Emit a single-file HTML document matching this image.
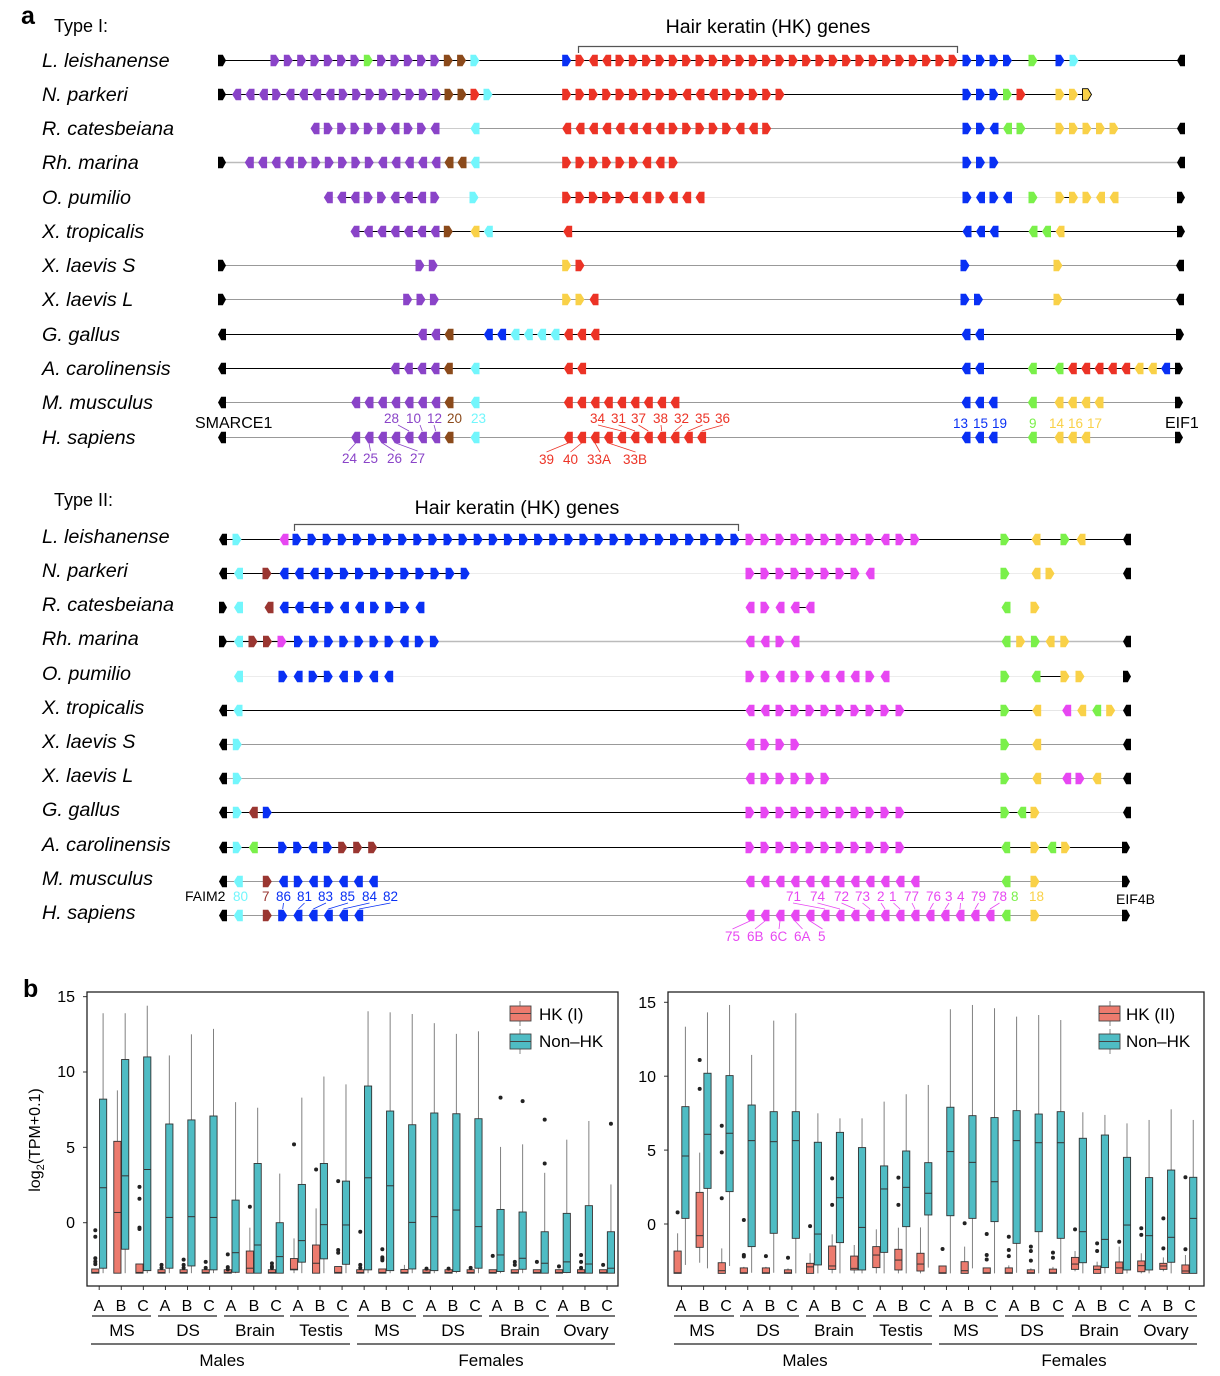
<!DOCTYPE html>
<html><head><meta charset="utf-8">
<style>
html,body{margin:0;padding:0;background:#fff;}
svg{display:block;font-family:"Liberation Sans",Arial,sans-serif;}
.sp{font-size:19.8px;font-style:italic;}
.n{font-size:13.5px;}
</style></head>
<body>
<svg id="s" width="1220" height="1376" viewBox="0 0 1220 1376" xmlns="http://www.w3.org/2000/svg">
<rect width="1220" height="1376" fill="#fff"/>
<!-- Panel a texts -->
<text x="21" y="24" font-size="25" font-weight="bold">a</text>
<text x="54" y="32" font-size="18">Type I:</text>
<text x="768" y="33" font-size="19.6" text-anchor="middle">Hair keratin (HK) genes</text>
<path d="M578.5,53 V46.5 H957.5 V53" fill="none" stroke="#555" stroke-width="1.2"/>
<g class="sp">
<text x="42" y="67">L. leishanense</text>
<text x="42" y="101">N. parkeri</text>
<text x="42" y="135">R. catesbeiana</text>
<text x="42" y="169">Rh. marina</text>
<text x="42" y="204">O. pumilio</text>
<text x="42" y="238">X. tropicalis</text>
<text x="42" y="272">X. laevis S</text>
<text x="42" y="306">X. laevis L</text>
<text x="42" y="341">G. gallus</text>
<text x="42" y="375">A. carolinensis</text>
<text x="42" y="409">M. musculus</text>
<text x="42" y="444">H. sapiens</text>
</g>
<text x="54" y="506" font-size="18">Type II:</text>
<text x="517" y="514" font-size="19.6" text-anchor="middle">Hair keratin (HK) genes</text>
<path d="M294.5,531 V524.5 H738.5 V531" fill="none" stroke="#555" stroke-width="1.2"/>
<g class="sp">
<text x="42" y="543">L. leishanense</text>
<text x="42" y="577">N. parkeri</text>
<text x="42" y="611">R. catesbeiana</text>
<text x="42" y="645">Rh. marina</text>
<text x="42" y="680">O. pumilio</text>
<text x="42" y="714">X. tropicalis</text>
<text x="42" y="748">X. laevis S</text>
<text x="42" y="782">X. laevis L</text>
<text x="42" y="816">G. gallus</text>
<text x="42" y="851">A. carolinensis</text>
<text x="42" y="885">M. musculus</text>
<text x="42" y="919">H. sapiens</text>
</g>
<!-- Type I gene labels -->
<text x="195" y="428" font-size="16">SMARCE1</text>
<text x="1165" y="428" font-size="16">EIF1</text>
<g class="n">
<text x="384" y="423" fill="#8A44C8">28</text>
<text x="406" y="423" fill="#8A44C8">10</text>
<text x="427" y="423" fill="#8A44C8">12</text>
<text x="447" y="423" fill="#8B4A1B">20</text>
<text x="471" y="423" fill="#72F6FC">23</text>
<text x="590" y="423" fill="#EC3326">34</text>
<text x="611" y="423" fill="#EC3326">31</text>
<text x="631" y="423" fill="#EC3326">37</text>
<text x="653" y="423" fill="#EC3326">38</text>
<text x="674" y="423" fill="#EC3326">32</text>
<text x="695" y="423" fill="#EC3326">35</text>
<text x="715" y="423" fill="#EC3326">36</text>
<text x="953" y="428" fill="#0930F4">13</text>
<text x="973" y="428" fill="#0930F4">15</text>
<text x="992" y="428" fill="#0930F4">19</text>
<text x="1029" y="428" fill="#7AF04A">9</text>
<text x="1049" y="428" fill="#F9D148">14</text>
<text x="1068" y="428" fill="#F9D148">16</text>
<text x="1087" y="428" fill="#F9D148">17</text>
<text x="342" y="463" fill="#8A44C8">24</text>
<text x="363" y="463" fill="#8A44C8">25</text>
<text x="387" y="463" fill="#8A44C8">26</text>
<text x="410" y="463" fill="#8A44C8">27</text>
<text x="539" y="464" fill="#EC3326">39</text>
<text x="563" y="464" fill="#EC3326">40</text>
<text x="587" y="464" fill="#EC3326">33A</text>
<text x="623" y="464" fill="#EC3326">33B</text>
</g>
<!-- Type II gene labels -->
<text x="185" y="901" font-size="14">FAIM2</text>
<text x="1116" y="904" font-size="14">EIF4B</text>
<g class="n">
<text x="233" y="901" fill="#72F6FC">80</text>
<text x="262" y="901" fill="#9A3631">7</text>
<text x="276" y="901" fill="#0930F4">86</text>
<text x="297" y="901" fill="#0930F4">81</text>
<text x="318" y="901" fill="#0930F4">83</text>
<text x="340" y="901" fill="#0930F4">85</text>
<text x="362" y="901" fill="#0930F4">84</text>
<text x="383" y="901" fill="#0930F4">82</text>
<text x="786" y="901" fill="#E747F2">71</text>
<text x="810" y="901" fill="#E747F2">74</text>
<text x="834" y="901" fill="#E747F2">72</text>
<text x="855" y="901" fill="#E747F2">73</text>
<text x="877" y="901" fill="#E747F2">2</text>
<text x="889" y="901" fill="#E747F2">1</text>
<text x="904" y="901" fill="#E747F2">77</text>
<text x="926" y="901" fill="#E747F2">76</text>
<text x="945" y="901" fill="#E747F2">3</text>
<text x="957" y="901" fill="#E747F2">4</text>
<text x="971" y="901" fill="#E747F2">79</text>
<text x="992" y="901" fill="#E747F2">78</text>
<text x="1011" y="901" fill="#7AF04A">8</text>
<text x="1029" y="901" fill="#F9D148">18</text>
<text x="725" y="941" fill="#E747F2">75</text>
<text x="747" y="941" fill="#E747F2">6B</text>
<text x="770" y="941" fill="#E747F2">6C</text>
<text x="794" y="941" fill="#E747F2">6A</text>
<text x="818" y="941" fill="#E747F2">5</text>
</g>
<g id="g"></g>

<!-- Panel b -->
<text x="23" y="997" font-size="25" font-weight="bold">b</text>
<g font-size="16" text-anchor="end">
<text x="75" y="1002">15</text>
<text x="75" y="1077">10</text>
<text x="75" y="1153">5</text>
<text x="75" y="1228">0</text>
<text x="656" y="1008">15</text>
<text x="656" y="1082">10</text>
<text x="656" y="1156">5</text>
<text x="656" y="1230">0</text>
</g>
<text transform="translate(40,1140) rotate(-90)" text-anchor="middle" font-size="16">log<tspan font-size="11" dy="4">2</tspan><tspan dy="-4">(TPM+0.1)</tspan></text>
<g id="b"></g>
<rect x="87" y="992" width="531" height="294" fill="none" stroke="#222" stroke-width="1.3"/>
<rect x="668" y="992" width="536" height="294" fill="none" stroke="#222" stroke-width="1.3"/>
<!-- legends -->
<line x1="520" x2="520" y1="1001" y2="1026" stroke="#888"/>
<rect x="510" y="1006" width="21" height="15" fill="#EC7B6E" stroke="#444" stroke-width="0.9"/>
<line x1="510" x2="531" y1="1013.5" y2="1013.5" stroke="#444"/>
<line x1="520" x2="520" y1="1029" y2="1054" stroke="#888"/>
<rect x="510" y="1034" width="21" height="15" fill="#4FBCC4" stroke="#444" stroke-width="0.9"/>
<line x1="510" x2="531" y1="1041.5" y2="1041.5" stroke="#444"/>
<text x="539" y="1020" font-size="17">HK (I)</text>
<text x="539" y="1047" font-size="17">Non–HK</text>
<line x1="1110" x2="1110" y1="1001" y2="1026" stroke="#888"/>
<rect x="1099" y="1006" width="21" height="15" fill="#EC7B6E" stroke="#444" stroke-width="0.9"/>
<line x1="1099" x2="1120" y1="1013.5" y2="1013.5" stroke="#444"/>
<line x1="1110" x2="1110" y1="1029" y2="1054" stroke="#888"/>
<rect x="1099" y="1034" width="21" height="15" fill="#4FBCC4" stroke="#444" stroke-width="0.9"/>
<line x1="1099" x2="1120" y1="1041.5" y2="1041.5" stroke="#444"/>
<text x="1126" y="1020" font-size="17">HK (II)</text>
<text x="1126" y="1047" font-size="17">Non–HK</text>
<!-- x labels -->
<g font-size="16" text-anchor="middle">
<text x="99" y="1311">A</text><text x="121" y="1311">B</text><text x="143" y="1311">C</text>
<text x="165" y="1311">A</text><text x="187" y="1311">B</text><text x="209" y="1311">C</text>
<text x="231" y="1311">A</text><text x="254" y="1311">B</text><text x="276" y="1311">C</text>
<text x="298" y="1311">A</text><text x="320" y="1311">B</text><text x="342" y="1311">C</text>
<text x="364" y="1311">A</text><text x="386" y="1311">B</text><text x="408" y="1311">C</text>
<text x="431" y="1311">A</text><text x="453" y="1311">B</text><text x="475" y="1311">C</text>
<text x="497" y="1311">A</text><text x="519" y="1311">B</text><text x="541" y="1311">C</text>
<text x="563" y="1311">A</text><text x="585" y="1311">B</text><text x="607" y="1311">C</text>
<text x="681" y="1311">A</text><text x="704" y="1311">B</text><text x="726" y="1311">C</text>
<text x="748" y="1311">A</text><text x="770" y="1311">B</text><text x="792" y="1311">C</text>
<text x="814" y="1311">A</text><text x="836" y="1311">B</text><text x="858" y="1311">C</text>
<text x="881" y="1311">A</text><text x="903" y="1311">B</text><text x="925" y="1311">C</text>
<text x="947" y="1311">A</text><text x="969" y="1311">B</text><text x="991" y="1311">C</text>
<text x="1014" y="1311">A</text><text x="1035" y="1311">B</text><text x="1058" y="1311">C</text>
<text x="1080" y="1311">A</text><text x="1102" y="1311">B</text><text x="1124" y="1311">C</text>
<text x="1146" y="1311">A</text><text x="1168" y="1311">B</text><text x="1190" y="1311">C</text>
</g>
<g font-size="17" text-anchor="middle">
<text x="122" y="1336">MS</text><text x="188" y="1336">DS</text><text x="255" y="1336">Brain</text><text x="321" y="1336">Testis</text>
<text x="387" y="1336">MS</text><text x="453" y="1336">DS</text><text x="520" y="1336">Brain</text><text x="586" y="1336">Ovary</text>
<text x="222" y="1366">Males</text><text x="491" y="1366">Females</text>
<text x="702" y="1336">MS</text><text x="768" y="1336">DS</text><text x="834" y="1336">Brain</text><text x="901" y="1336">Testis</text>
<text x="966" y="1336">MS</text><text x="1032" y="1336">DS</text><text x="1099" y="1336">Brain</text><text x="1166" y="1336">Ovary</text>
<text x="805" y="1366">Males</text><text x="1074" y="1366">Females</text>
</g>
<g stroke="#222" stroke-width="1.2">
<line x1="92" x2="151" y1="1316" y2="1316"/><line x1="158" x2="217" y1="1316" y2="1316"/><line x1="224" x2="284" y1="1316" y2="1316"/><line x1="290" x2="349" y1="1316" y2="1316"/>
<line x1="357" x2="416" y1="1316" y2="1316"/><line x1="423" x2="482" y1="1316" y2="1316"/><line x1="489" x2="549" y1="1316" y2="1316"/><line x1="556" x2="615" y1="1316" y2="1316"/>
<line x1="91" x2="350" y1="1344" y2="1344"/><line x1="357" x2="615" y1="1344" y2="1344"/>
<line x1="674" x2="734" y1="1316" y2="1316"/><line x1="740" x2="799" y1="1316" y2="1316"/><line x1="806" x2="866" y1="1316" y2="1316"/><line x1="873" x2="932" y1="1316" y2="1316"/>
<line x1="939" x2="998" y1="1316" y2="1316"/><line x1="1005" x2="1064" y1="1316" y2="1316"/><line x1="1072" x2="1131" y1="1316" y2="1316"/><line x1="1138" x2="1197" y1="1316" y2="1316"/>
<line x1="674" x2="932" y1="1344" y2="1344"/><line x1="939" x2="1197" y1="1344" y2="1344"/>
</g>
</svg>
<script>
(function(){
var NS='http://www.w3.org/2000/svg';
var S=document.getElementById('g');
function E(t,a,P){var e=document.createElementNS(NS,t);for(var k in a)e.setAttribute(k,a[k]);(P||S).appendChild(e);return e;}
var C={p:'#8A44C8',g:'#7AF04A',b:'#8B4A1B',c:'#72F6FC',B:'#0930F4',r:'#EC3326',y:'#F9D148',m:'#E747F2',d:'#9A3631',k:'#000'};
function A(x,y,c,d,w,st){w=w||9;y=y+0.5;var h=5.8,hw=w/2,t=w*0.4,p;
 if(d==='R')p=[[x-hw,y-h],[x+hw-t,y-h],[x+hw,y],[x+hw-t,y+h],[x-hw,y+h]];
 else p=[[x+hw,y-h],[x-hw+t,y-h],[x-hw,y],[x-hw+t,y+h],[x+hw,y+h]];
 var o={points:p.map(function(q){return q[0].toFixed(1)+','+q[1].toFixed(1);}).join(' '),fill:C[c]};
 if(st){o.stroke='#000';o['stroke-width']=0.9;}E('polygon',o);}
function R(y,x0,p,cs,ds){for(var i=0;i<ds.length;i++)A(x0+i*p,y,cs.length>1?cs[i]:cs,ds[i]);}
function L(y,x1,x2,c,w){var yy=(w&&w>1.4)?y+0.5:y+0.5;E('line',{x1:x1,x2:x2,y1:yy,y2:yy,stroke:c,'stroke-width':w||1});}
function K(x,y,d){A(x,y,'k',d,8);}
function rep(s,n){var r='';for(var i=0;i<n;i++)r+=s;return r;}
function CL(x1,y1,x2,y2,c){E('line',{x1:x1,y1:y1,x2:x2,y2:y2,stroke:c,'stroke-width':0.8});}

// ---------- Type I ----------
var y=60;L(y,222,1181,'#000');K(222,y,'R');R(y,275,13.33,'pppppppgpppppbbc',rep('R',16));
A(566.7,y,'B','R');R(y,580,13.33,'r','RLL'+rep('R',26));R(y,967,13.5,'B','RRRR');
A(1033,y,'g','R');A(1060,y,'B','R');A(1074,y,'c','R');K(1181,y,'L');

y=94;L(y,222,1087,'#000');K(222,y,'R');R(y,236.7,13.33,'p','LLLRLLLLRRRRRRRR');R(y,449,13,'bbrc','RRRR');
R(y,566.7,13.33,'r','RRRRRRRRRLLLRRRRR');R(y,967,13.5,'BBBgr','RRRRR');A(1060,y,'y','R');A(1073.5,y,'y','R');A(1087,y,'y','R',9,true);

y=128;L(y,315,475,'#ccc');L(y,475,1181,'#999');R(y,315,13.33,'p','LRRRRRLRRL');A(475,y,'c','L');
R(y,566.7,13.33,'r','LLLLLLLLRRRRRLLR');R(y,967,13.5,'BBBgg','RRLLR');R(y,1060,13.5,'y','RRRRR');K(1181,y,'L');

y=162;L(y,222,1181,'#bbb',1.6);K(222,y,'R');R(y,249.3,13.33,'p','LLLLRRRRRRLLLLL');R(y,449,13,'bbc','LLL');
R(y,566.7,13.33,'r','RRRRRRLLR');R(y,967,13.5,'B','RRR');K(1181,y,'L');

y=197;L(y,328,1181,'#e8e8e8');L(y,341,355,'#000');L(y,395,422,'#000');L(y,566,630,'#000');
R(y,328.3,13.33,'p','LLLRRLLLR');A(474,y,'c','R');R(y,566.7,13.33,'r','RRRRRLLRLLL');
R(y,967,13.5,'B','RLRL');A(1033,y,'g','R');L(y,1060,1075,'#000');R(y,1060,13.5,'y','RRRLL');K(1181,y,'R');

y=231;L(y,355,1181,'#000');R(y,355,13.33,'p','LLLLLLL');A(448.3,y,'b','R');A(475,y,'y','L');A(488.3,y,'c','L');
A(567.7,y,'r','L');R(y,967,13.5,'B','LLL');R(y,1033,13.5,'ggy','LLL');K(1181,y,'R');

y=265;L(y,222,1180,'#999');K(222,y,'R');A(420,y,'p','R');A(433.3,y,'p','R');A(566.7,y,'y','R');A(580,y,'r','R');
A(965,y,'B','R');A(1058,y,'y','R');K(1180,y,'L');

y=299;L(y,222,1180,'#999');K(222,y,'R');R(y,407.7,13.33,'p','RRR');A(566.7,y,'y','R');A(580,y,'y','R');A(594,y,'r','L');
A(965,y,'B','R');A(978.5,y,'B','R');A(1058,y,'y','R');K(1180,y,'L');

y=334;L(y,222,1180,'#000');K(222,y,'L');R(y,422.3,13.33,'ppb','LLL');R(y,488.3,13.33,'BBccccrrr','LLLLLLLLL');
R(y,966,13.5,'B','LL');K(1180,y,'R');

y=368;L(y,222,1179,'#000');K(222,y,'L');R(y,395,13.33,'ppppb','LLLLL');A(475,y,'c','L');R(y,568.3,13.33,'r','LL');
R(y,966,13.5,'B','LL');A(1032.3,y,'g','L');R(y,1059,13.33,'grrrrryyB','LLLLLLLLL');K(1179,y,'R');

y=402;L(y,222,1179,'#999');K(222,y,'L');R(y,355.7,13.33,'pppppppb','LLLLLLLL');A(475,y,'c','L');
R(y,568.3,13.33,'r',rep('L',9));R(y,966,13.5,'B','LLL');A(1032.3,y,'g','L');R(y,1059,13.33,'y','LLLL');K(1179,y,'R');

y=437;L(y,222,1179,'#999');K(222,y,'L');R(y,355.7,13.33,'pppppppb','LLLLLLLL');A(475,y,'c','L');
R(y,568.3,13.33,'r',rep('L',11));R(y,966,13.5,'B','LLL');A(1032.3,y,'g','L');R(y,1059,13.33,'y','LLL');K(1179,y,'R');

// connectors type I
var P=C.p,RD=C.r;
CL(398,425,409,431,P);CL(420,425,422.3,431,P);CL(434,425,435.7,431,P);
CL(348.5,451,355.7,443,P);CL(370.5,451,369,443,P);CL(394.5,451,382.3,443,P);CL(417.5,451,395.7,443,P);
var tl=[[598,621.7],[618.5,635],[638.5,648.3],[661,661.7],[682,675],[702.5,688.3],[723,701.7]];
tl.forEach(function(a){CL(a[0],425,a[1],431,RD);});
var bl=[[546.5,568.3],[570.5,581.7],[600,595],[635.5,608.3]];
bl.forEach(function(a){CL(a[0],452,a[1],443,RD);});

// ---------- Type II ----------
y=539;L(y,223,1127,'#000');K(223,y,'L');A(237,y,'c','R');A(284,y,'m','L');R(y,297,15.1,'B',rep('R',30));
R(y,750,15,'m','RRRRRRRRRLRR');A(1005,y,'g','R');A(1036,y,'y','L');A(1065,y,'g','R');A(1081,y,'y','L');K(1127,y,'L');

y=573;L(y,223,1127,'#ececec');L(y,223,465,'#000');K(223,y,'L');A(238.5,y,'c','L');A(267,y,'d','R');
R(y,284,15.1,'B','LLLRRRRRRRRRR');L(y,750,855,'#000');R(y,750,15,'m','RRRRRRRRL');A(1005,y,'g','R');A(1036,y,'y','L');A(1050,y,'y','R');K(1127,y,'L');

y=607;L(y,284,330,'#000');L(y,388,404,'#000');L(y,795,810,'#000');K(223,y,'R');A(238.5,y,'c','L');A(269,y,'d','L');
R(y,284,15.1,'B','LLLRLLRRRL');R(y,750,15,'m','LRLLL');A(1006,y,'g','L');A(1035,y,'y','R');

y=641;L(y,223,1127,'#bbb',1.6);L(y,223,298,'#000');K(223,y,'R');A(238.5,y,'c','L');R(y,253,14.5,'ddm','RRR');
R(y,298.5,15.1,'B','RRRRRRRLRR');R(y,750,15,'m','LLRL');R(y,1006,14.7,'gygyy','LRRLR');K(1127,y,'L');

y=676;L(y,238,1127,'#ececec');L(y,313,328,'#000');L(y,1036,1065,'#000');A(238.5,y,'c','L');R(y,283,15.1,'B','RLRRLRLL');
R(y,750,15,'m','RRLRRLLLRL');A(1005,y,'g','R');A(1036,y,'g','L');A(1065,y,'y','R');A(1080,y,'y','R');K(1127,y,'R');

y=710;L(y,223,1036,'#000');L(y,1036,1127,'#e6e6e6');K(223,y,'L');A(238,y,'c','L');R(y,750,15,'m','LLRRRRRRRRR');
A(1005,y,'g','R');A(1036.7,y,'y','L');A(1066.7,y,'m','L');A(1081.7,y,'y','L');A(1096.7,y,'g','L');A(1110.7,y,'y','R');K(1127,y,'L');

y=744;L(y,223,1127,'#999');K(223,y,'L');A(237.3,y,'c','R');R(y,750,15,'m','LRRR');A(1005,y,'g','R');A(1036.7,y,'y','L');K(1127,y,'L');

y=778;L(y,223,1127,'#aaa');K(223,y,'L');A(237.3,y,'c','R');R(y,750,15,'m','LRRRRR');A(1005,y,'g','R');A(1036.7,y,'y','L');
A(1066.7,y,'m','L');A(1080,y,'m','R');A(1096.7,y,'y','L');K(1127,y,'L');

y=812;L(y,223,1035,'#000');L(y,1035,1127,'#e6e6e6');K(223,y,'L');A(237.3,y,'c','R');A(253.3,y,'d','L');A(267.3,y,'B','R');
R(y,750,15,'m',rep('R',11));A(1005,y,'g','R');A(1021.7,y,'g','L');A(1035,y,'y','R');K(1127,y,'L');

y=847;L(y,223,1126,'#000');K(223,y,'L');A(237.3,y,'c','R');A(253.3,y,'g','L');R(y,282.7,15,'BBBBddd','RRLRRRR');
R(y,750,15,'m',rep('R',11));A(1005.7,y,'g','L');A(1035,y,'y','R');A(1051.7,y,'g','L');A(1065.7,y,'y','R');K(1126,y,'R');

y=881;L(y,223,1126,'#999');K(223,y,'L');A(238.3,y,'c','L');A(267.3,y,'d','R');R(y,283.3,15,'B','LRLRLLL');
R(y,750,15,'m',rep('L',12));A(1006,y,'g','L');A(1035,y,'y','R');K(1126,y,'R');

y=915;L(y,223,1126,'#999');K(223,y,'L');A(238.3,y,'c','L');A(267.3,y,'d','R');R(y,282.7,15.2,'B','RLLLLL');
R(y,750,15,'m',rep('L',17));A(1006,y,'g','L');A(1035,y,'y','R');K(1126,y,'R');

// connectors type II
var BL=C.B,M=C.m;
[[283.5,282.7],[304.5,298.3],[326,313.3],[348,328.3],[369.5,343.3],[390.5,359]].forEach(function(a){CL(a[0],903,a[1],909,BL);});
[[793,825],[817.5,840],[841.5,855],[862.5,870],[881,885],[893.5,900],[912,915],[933.5,930],[949,945],[960.5,960],[978.5,975],[999.5,990]].forEach(function(a){CL(a[0],903,a[1],909,M);});
[[732.5,750],[755,765],[779,780],[802.5,795],[822.5,810]].forEach(function(a){CL(a[0],929,a[1],921,M);});

// ---------- Boxplots ----------
var B=document.getElementById('b');
function yL(v){return 1222.7-15.07*v;}
function yR(v){return 1224-14.78*v;}
function BP(cx,yf,d,fill,side){
 var x1=side<0?cx-7.5:cx+0.3,x2=side<0?cx-0.3:cx+7.5,xm=(x1+x2)/2;
 var q1=d[0],md=d[1],q3=d[2],lo=d[3],hi=d[4],out=d[5]||[];
 E('line',{x1:xm,x2:xm,y1:yf(hi),y2:yf(q3),stroke:'#808080','stroke-width':1},B);
 E('line',{x1:xm,x2:xm,y1:yf(q1),y2:yf(lo),stroke:'#808080','stroke-width':1},B);
 E('rect',{x:x1,y:yf(q3),width:x2-x1,height:Math.max(yf(q1)-yf(q3),1),fill:fill,stroke:'#333','stroke-width':0.9},B);
 E('line',{x1:x1,x2:x2,y1:yf(md),y2:yf(md),stroke:'#333','stroke-width':1},B);
 out.forEach(function(o){E('circle',{cx:xm,cy:yf(o),r:2,fill:'#222'},B);});
}
function F(o){return [-3.35,-3.3,-3.12,-3.35,-3.12,o];}
var lr=[[-3.35,-3.3,-3.07,-3.35,-3.07,[-0.5,-0.93,-2.36,-2.58,-2.75]],[-3.35,0.68,5.4,-3.35,8.78],[-3.35,-3.3,-2.74,-3.35,-2.74,[2.38,1.59,-0.33,-0.42]],
F([-2.8,-3.0]),F([-2.45,-2.8,-3.0]),F([-2.6,-3.0]),F([-2.1,-2.95,-3.1]),[-3.35,-3.02,-1.88,-3.35,-0.33,[1.06]],F([-2.7,-2.9,-3.0]),
[-3.13,-3.09,-2.38,-3.35,-1.04,[5.2]],[-3.35,-2.69,-1.48,-3.35,0.95,[3.53]],[-3.35,-3.3,-2.91,-3.35,-2.91,[2.76,-1.81,-1.99]],
F([-0.6,-2.8,-3.0]),[-3.35,-3.3,-3.07,-3.35,-3.07,[-1.76,-2.3,-2.4,-2.5]],[-3.35,-3.3,-3.1,-3.35,-2.8],F([-3.05]),F([-3.05]),F([-3.0]),
F([-2.2]),F([-2.6,-2.8]),F([-2.6]),F([-2.9]),F([-2.14,-2.6,-3.0]),F([-2.8])];
var lt=[[-3.02,2.32,8.2,-3.35,13.9],[-1.76,3.11,10.83,-3.35,13.9],[-3.18,3.53,11.0,-3.35,14.4],[-3.02,0.35,6.55,-3.35,11.1],[-2.87,0.4,6.82,-3.35,12.5],
[-3.13,0.35,7.08,-3.35,12.86],[-3.29,-1.99,1.5,-3.35,8.0],[-3.35,-1.48,3.93,-3.35,7.63],[-3.35,-2.25,0,-3.35,3.26],[-2.62,-1.19,2.54,-3.35,8.3],
[-2.4,-0.13,3.93,-3.35,9.7],[-2.76,-0.15,2.76,-3.35,9.18],[-3.13,2.98,9.07,-3.35,14.03],[-3.18,2.45,7.41,-3.35,13.96],[-3.07,0.02,6.5,-3.35,13.85],
[-3.18,0.4,7.28,-3.35,13.24],[-3.24,0.84,7.23,-3.35,12.53],[-3.02,-0.26,6.9,-3.35,12.7],[-3.24,-2.14,0.88,-3.35,5.03,[8.3]],[-3.09,-2.36,0.71,-3.35,5.2,[8.07]],
[-3.35,-2.69,-0.6,-3.35,3.31,[3.93,6.84]],[-3.31,-2.6,0.62,-3.35,5.51],[-3.35,-2.74,1.13,-3.35,6.75],[-3.35,-3.02,-0.6,-3.35,2.54,[6.57]]];
var rr=[[-3.34,-3.3,-1.83,-3.34,-0.63,[0.79]],[-1.58,-0.79,2.14,-2.62,4.83,[11.1,9.14]],[-3.34,-3.16,-2.62,-3.34,-1.65,[6.65,4.85,1.74]],
[-3.34,-3.3,-2.97,-3.34,-2.9,[0.27,-2.1,-2.2]],[-3.34,-3.3,-2.97,-3.34,-2.9,[-2.17]],[-3.34,-3.3,-3.1,-3.34,-3.0,[-2.28]],
[-3.34,-2.9,-2.66,-3.34,-1.98,[-0.14]],[-3.07,-2.84,-1.49,-3.34,-0.7,[3.09,1.29]],[-3.11,-3.0,-2.17,-3.34,-1.42],[-2.95,-2.1,-1.53,-3.34,-0.36],
[-3.11,-2.44,-1.71,-3.34,-0.25,[3.14,1.29]],[-3.18,-2.71,-1.98,-3.34,-0.23],[-3.34,-3.3,-2.84,-3.34,-2.84,[-1.69]],[-3.34,-3.16,-2.55,-3.34,-1.53,[0.05]],
[-3.34,-3.3,-2.97,-3.34,-2.97,[-0.68,-2.1,-2.4]],[-3.34,-3.3,-2.97,-3.34,-2.8,[-0.86,-1.76,-2.17]],[-3.34,-3.3,-3.1,-3.34,-3.0,[-1.53,-1.83,-2.48]],
[-3.34,-3.3,-3.05,-3.34,-2.9,[-1.94,-2.28]],[-3.07,-2.71,-2.26,-3.2,-1.83,[-0.36]],[-3.34,-3.07,-2.84,-3.34,-2.55,[-1.31,-1.83]],
[-3.34,-2.97,-2.57,-3.34,-1.53,[-1.2]],[-3.23,-2.82,-2.5,-3.34,-1.98,[-0.29,-0.74]],[-3.07,-2.84,-2.66,-3.2,-2.26,[0.38,-1.65]],[-3.34,-3.18,-2.77,-3.34,-2.1,[3.16,-1.71]]];
var rt=[[0.38,4.6,7.94,-2.77,13.35],[2.41,6.07,10.2,-3.0,14.32],[2.19,6.14,10.04,-2.84,14.82],[-1.53,5.64,8.05,-3.3,11.44],[-0.63,5.57,7.6,-3.3,13.76],
[-0.97,5.64,7.6,-3.34,14.26],[-2.77,-0.68,5.53,-3.34,7.49],[-1.26,1.78,6.2,-3.34,7.15],[-3.11,-0.23,5.17,-3.34,7.15],[-1.92,2.37,3.93,-3.34,8.28],
[-0.18,2.48,4.94,-3.34,8.78],[0.61,2.08,4.15,-2.95,9.41],[0.56,4.9,7.9,-3.34,14.53],[0.38,4.17,7.33,-3.0,14.82],[0.16,2.86,7.2,-3.34,14.6],
[-1.31,5.64,7.67,-3.3,14.03],[-0.52,5.5,7.44,-3.34,14.14],[-0.97,5.5,7.6,-3.34,13.8],[-2.62,-0.52,5.8,-3.34,7.56],[-2.95,-1.04,6.02,-3.34,7.38],
[-3.11,-0.07,4.51,-3.34,6.81],[-3.11,-0.79,3.14,-3.34,7.04],[-2.59,-0.9,3.65,-3.34,7.76],[-3.34,0.38,3.16,-3.34,7.04]];
var RED='#EC7B6E',TEAL='#4FBCC4';
for(var i=0;i<24;i++){
 var cl=99.2+i*22.08, cr=681.5+i*22.08;
 BP(cl,yL,lt[i],TEAL,1);BP(cl,yL,lr[i],RED,-1);
 BP(cr,yR,rt[i],TEAL,1);BP(cr,yR,rr[i],RED,-1);
 E('line',{x1:cl,x2:cl,y1:1286,y2:1290,stroke:'#333','stroke-width':1},B);
 E('line',{x1:cr,x2:cr,y1:1286,y2:1290,stroke:'#333','stroke-width':1},B);
}
[15,10,5,0].forEach(function(v){
 E('line',{x1:83,x2:87,y1:yL(v),y2:yL(v),stroke:'#333'},B);
 E('line',{x1:664,x2:668,y1:yR(v),y2:yR(v),stroke:'#333'},B);
});
})();
</script>
</body></html>
